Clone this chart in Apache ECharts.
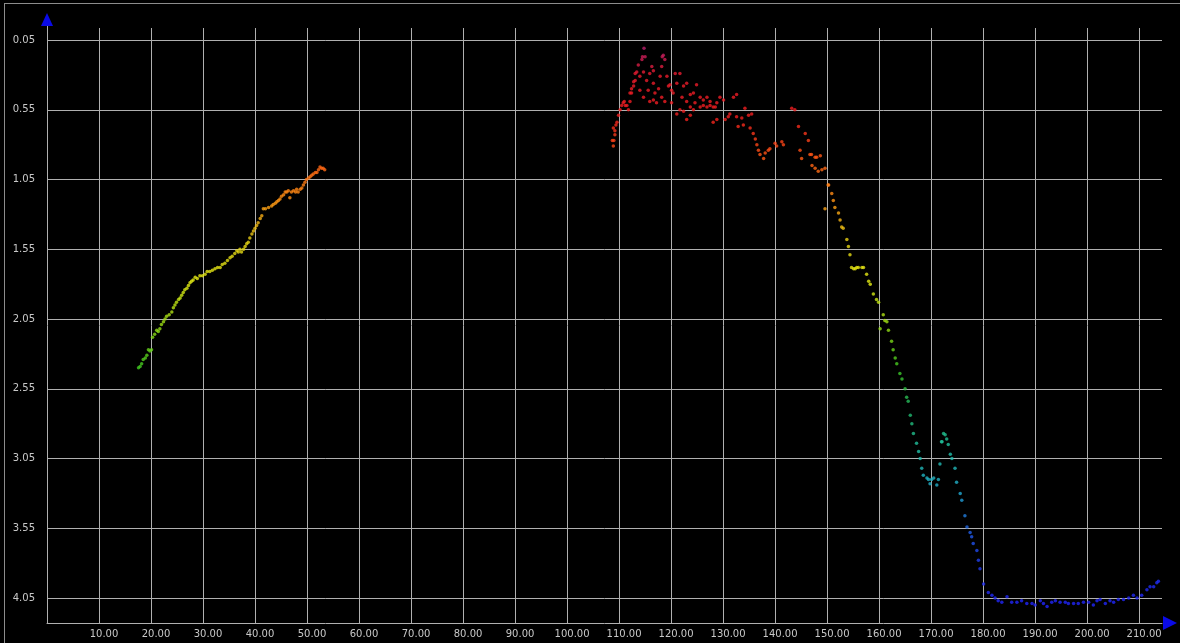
<!DOCTYPE html>
<html>
<head>
<meta charset="utf-8">
<script src="https://cdn.jsdelivr.net/npm/echarts@6/dist/echarts.min.js"></script>
<style>
  html, body { margin: 0; padding: 0; background: #000; }
  #chart { width: 1180px; height: 643px; }
</style>
</head>
<body>
<div id="chart"></div>
<script>
// Tick positions for both axes
const xTicks = [10, 20, 30, 40, 50, 60, 70, 80, 90, 100, 110, 120, 130, 140, 150, 160, 170, 180, 190, 200, 210];
const yTicks = [0.05, 0.55, 1.05, 1.55, 2.05, 2.55, 3.05, 3.55, 4.05];

// First run: rising branch
const leftX = [17.6, 17.9, 18.2, 18.5, 18.9, 19.2, 19.5, 19.8, 20.1, 20.3, 20.7, 21.1, 21.4, 21.7, 22.0, 22.4, 22.7, 23.0, 23.5, 24.0,
  24.3, 24.6, 24.9, 25.3, 25.6, 25.9, 26.2, 26.5, 26.9, 27.2, 27.5, 27.8, 28.1, 28.5, 28.9, 29.4, 29.9, 30.4, 30.8, 31.3,
  31.8, 32.3, 32.8, 33.3, 33.7, 34.2, 34.7, 35.2, 35.6, 36.1, 36.5, 36.8, 37.1, 37.4, 37.8, 38.1, 38.4, 38.7, 39.0, 39.4,
  39.7, 40.0, 40.3, 40.6, 41.0, 41.3, 41.6, 42.0, 42.6, 43.2, 43.5, 43.9, 44.2, 44.5, 44.8, 45.1, 45.5, 45.8, 46.1, 46.4,
  46.7, 47.0, 47.4, 47.8, 48.0, 48.3, 48.7, 49.0, 49.3, 49.6, 49.9, 50.3, 50.6, 50.9, 51.2, 51.6, 51.9, 52.2, 52.5, 52.8,
  53.1, 53.4];
const leftY = [2.40, 2.39, 2.37, 2.34, 2.33, 2.31, 2.27, 2.28, 2.27, 2.18, 2.16, 2.13, 2.14, 2.12, 2.09, 2.07, 2.05, 2.03, 2.02, 2.00,
  1.97, 1.95, 1.93, 1.91, 1.90, 1.88, 1.86, 1.84, 1.83, 1.81, 1.79, 1.78, 1.77, 1.75, 1.76, 1.74, 1.74, 1.73, 1.71, 1.71,
  1.70, 1.69, 1.68, 1.68, 1.66, 1.65, 1.63, 1.61, 1.60, 1.58, 1.56, 1.57, 1.55, 1.57, 1.55, 1.53, 1.51, 1.50, 1.47, 1.44,
  1.42, 1.40, 1.38, 1.36, 1.33, 1.31, 1.26, 1.26, 1.25, 1.24, 1.23, 1.22, 1.21, 1.20, 1.19, 1.17, 1.16, 1.14, 1.14, 1.13,
  1.18, 1.14, 1.13, 1.14, 1.12, 1.14, 1.12, 1.11, 1.09, 1.07, 1.05, 1.04, 1.03, 1.02, 1.01, 1.00, 1.00, 0.98, 0.96, 0.97,
  0.97, 0.98];

// Second run: shallow crest
const crestX = [108.7, 108.9, 109.0, 109.2, 108.9, 109.2, 109.4, 109.6, 109.9, 110.2, 110.5, 110.8, 111.0, 111.2, 111.5, 111.8, 112.1, 112.1, 112.4, 112.4,
  112.8, 112.8, 113.1, 113.1, 113.4, 113.7, 114.0, 114.0, 114.4, 114.5, 114.8, 114.7, 114.7, 115.0, 115.3, 115.6, 115.9, 115.9, 116.3, 116.6,
  116.6, 116.6, 116.9, 117.2, 117.6, 117.9, 118.2, 118.2, 118.3, 118.5, 118.8, 118.8, 119.2, 119.5, 119.8, 120.1, 120.1, 120.4, 120.8, 121.1,
  121.1, 121.7, 121.7, 122.1, 122.4, 122.4, 123.0, 123.0, 123.0, 123.7, 123.7, 123.7, 124.3, 124.3, 124.6, 124.9, 125.6, 125.6, 126.2, 126.2,
  126.9, 126.9, 127.5, 127.5, 128.1, 128.1, 128.5, 128.8, 128.8, 129.4, 130.1, 130.4, 131.0, 131.3, 132.0, 132.6, 132.6, 132.9, 133.6, 133.9,
  134.2, 134.9, 135.2, 135.5, 135.8, 136.2, 136.5, 136.8, 137.1, 137.8, 138.1, 138.7, 139.0, 140.0, 140.3, 141.3, 141.6, 143.2, 143.8, 144.5,
  144.8, 145.1, 145.8, 146.4, 146.7, 147.0, 147.1, 147.7, 147.7, 148.0, 148.3, 148.7, 149.0, 149.6];
const crestY = [0.77, 0.81, 0.77, 0.73, 0.68, 0.70, 0.66, 0.64, 0.59, 0.55, 0.52, 0.50, 0.49, 0.52, 0.52, 0.55, 0.49, 0.43, 0.40, 0.43,
  0.38, 0.35, 0.34, 0.29, 0.28, 0.23, 0.31, 0.41, 0.19, 0.17, 0.11, 0.28, 0.46, 0.17, 0.34, 0.41, 0.29, 0.49, 0.24, 0.27,
  0.36, 0.48, 0.43, 0.50, 0.40, 0.31, 0.24, 0.46, 0.17, 0.16, 0.19, 0.49, 0.31, 0.38, 0.37, 0.41, 0.50, 0.43, 0.29, 0.36,
  0.58, 0.29, 0.55, 0.46, 0.38, 0.56, 0.36, 0.49, 0.62, 0.44, 0.53, 0.59, 0.43, 0.55, 0.50, 0.37, 0.46, 0.53, 0.52, 0.48,
  0.46, 0.53, 0.52, 0.49, 0.53, 0.64, 0.53, 0.50, 0.62, 0.46, 0.48, 0.62, 0.60, 0.58, 0.46, 0.44, 0.60, 0.67, 0.61, 0.66,
  0.54, 0.59, 0.68, 0.58, 0.72, 0.76, 0.80, 0.84, 0.87, 0.90, 0.86, 0.84, 0.83, 0.79, 0.81, 0.78, 0.80, 0.54, 0.55, 0.67,
  0.84, 0.90, 0.72, 0.77, 0.87, 0.87, 0.95, 0.89, 0.97, 0.89, 0.99, 0.88, 0.98, 0.97];

// Third run: descent and flat floor
const tailX = [150.2, 150.3, 150.9, 151.2, 149.6, 151.5, 152.2, 152.5, 152.8, 153.1, 153.8, 154.1, 154.4, 154.7, 155.1, 155.4, 155.7, 156.0, 156.7, 157.0,
  157.6, 158.0, 158.3, 158.9, 159.5, 159.9, 160.8, 161.1, 161.5, 160.2, 161.8, 162.4, 162.7, 163.1, 163.4, 164.0, 164.4, 165.0, 165.3, 165.6,
  166.0, 166.3, 166.6, 167.2, 167.6, 167.9, 168.2, 168.5, 169.2, 169.5, 169.8, 170.1, 170.5, 171.1, 171.4, 171.7, 172.0, 172.1, 172.4, 172.7,
  173.0, 173.3, 173.7, 174.0, 174.6, 174.9, 175.6, 175.9, 176.5, 176.9, 177.5, 177.8, 178.1, 178.8, 179.1, 179.4, 180.1, 181.0, 181.7, 182.3,
  182.9, 183.6, 184.6, 185.5, 186.5, 187.4, 188.4, 189.4, 190.0, 191.0, 191.6, 192.3, 193.2, 193.9, 194.8, 195.8, 196.4, 197.4, 198.3, 199.3,
  200.3, 201.2, 201.9, 202.5, 203.5, 204.4, 205.1, 206.0, 207.0, 208.0, 208.9, 209.6, 210.5, 211.5, 212.1, 212.8, 213.4, 213.7];
const tailY = [1.09, 1.09, 1.15, 1.20, 1.26, 1.25, 1.29, 1.34, 1.39, 1.40, 1.48, 1.53, 1.59, 1.68, 1.69, 1.69, 1.68, 1.68, 1.68, 1.68,
  1.73, 1.78, 1.80, 1.87, 1.91, 1.93, 2.02, 2.06, 2.07, 2.12, 2.13, 2.21, 2.27, 2.33, 2.37, 2.44, 2.48, 2.55, 2.61, 2.64,
  2.74, 2.80, 2.87, 2.94, 3.00, 3.05, 3.12, 3.17, 3.19, 3.20, 3.23, 3.20, 3.19, 3.24, 3.20, 3.09, 2.93, 2.93, 2.87, 2.88,
  2.91, 2.95, 3.02, 3.05, 3.12, 3.22, 3.30, 3.35, 3.46, 3.54, 3.58, 3.61, 3.66, 3.71, 3.78, 3.84, 3.95, 4.01, 4.03, 4.05,
  4.07, 4.08, 4.04, 4.08, 4.08, 4.07, 4.09, 4.09, 4.10, 4.07, 4.09, 4.11, 4.08, 4.07, 4.08, 4.08, 4.09, 4.09, 4.09, 4.08,
  4.08, 4.10, 4.07, 4.06, 4.09, 4.07, 4.08, 4.06, 4.06, 4.05, 4.03, 4.05, 4.03, 3.99, 3.97, 3.97, 3.94, 3.93];

function pairs(xs, ys) {
  return xs.map((x, i) => [x, ys[i]]);
}
const points = pairs(leftX, leftY).concat(pairs(crestX, crestY), pairs(tailX, tailY));

const gridColor = '#b0b0b0';
const labelStyle = { color: '#c8c8c8', fontSize: 10, fontFamily: 'DejaVu Sans' };

const chart = echarts.init(document.getElementById('chart'), null, { renderer: 'canvas' });
chart.setOption({
  backgroundColor: '#000',
  animation: false,
  grid: { left: 47, right: 18, top: 28, bottom: 20, containLabel: false, outerBoundsMode: 'none' },
  xAxis: {
    type: 'value',
    min: 0,
    max: 214.4,
    axisLine: { show: true, onZero: false, lineStyle: { color: gridColor, width: 1 } },
    axisTick: { show: false, customValues: xTicks },
    axisLabel: Object.assign({
      customValues: xTicks,
      margin: 6,
      padding: [0, 0, 0, 10],
      formatter: v => v.toFixed(2)
    }, labelStyle),
    splitLine: { show: true, lineStyle: { color: gridColor, width: 1 } }
  },
  yAxis: {
    type: 'value',
    inverse: true,
    min: -0.036,
    max: 4.229,
    axisLine: { show: true, onZero: false, lineStyle: { color: gridColor, width: 1 } },
    axisTick: { show: false, customValues: yTicks },
    axisLabel: Object.assign({
      customValues: yTicks,
      margin: 12,
      formatter: v => v.toFixed(2)
    }, labelStyle),
    splitLine: { show: true, lineStyle: { color: gridColor, width: 1 } }
  },
  visualMap: {
    show: false,
    type: 'continuous',
    dimension: 1,
    min: 0,
    max: 4.2,
    inRange: {
      color: ['#a02090', '#e81c2c', '#f21e1e', '#ff5a14', '#ff9414', '#e6d414', '#e2ec14', '#98dc14',
              '#40c820', '#20b868', '#20c0a8', '#20a8d0', '#2058e8', '#2030f0', '#2020ff']
    }
  },
  graphic: [
    { type: 'line', shape: { x1: 4, y1: 3.5, x2: 1180, y2: 3.5 }, style: { stroke: '#8c8c8c', lineWidth: 1 } },
    { type: 'line', shape: { x1: 4.5, y1: 3, x2: 4.5, y2: 643 }, style: { stroke: '#8c8c8c', lineWidth: 1 } },
    { type: 'line', shape: { x1: 47.5, y1: 25, x2: 47.5, y2: 28 }, style: { stroke: gridColor, lineWidth: 1 } },
    { type: 'polygon', shape: { points: [[47, 13], [41, 26], [53, 26]] }, style: { fill: '#0a0ae6' } },
    { type: 'polygon', shape: { points: [[1177, 623], [1163, 616], [1163, 630]] }, style: { fill: '#0a0ae6' } }
  ],
  series: [{
    type: 'scatter',
    symbol: 'circle',
    symbolSize: 3.5,
    data: points
  }]
});
</script>
</body>
</html>
